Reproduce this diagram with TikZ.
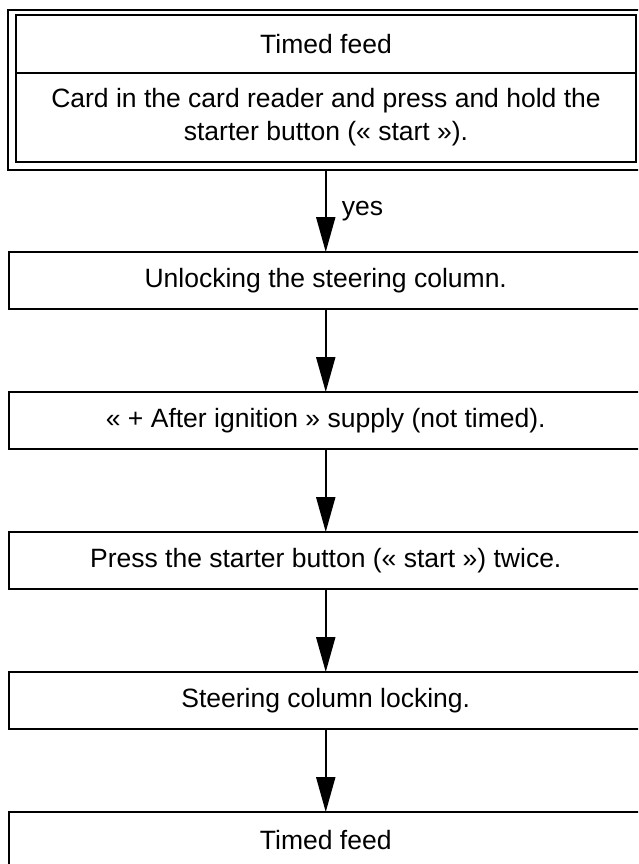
\documentclass[tikz,border=0pt]{standalone}
\usepackage{fontspec}
\setmainfont{Liberation Sans}
\usetikzlibrary{positioning, fit, arrows.meta}

\begin{document}
\begin{tikzpicture}[
    node distance=83pt,
    every node/.style={font=\fontsize{26.5}{33}\selectfont},
    feedpart/.style={rectangle, draw=black, line width=2pt, minimum width=620pt, outer sep=0pt, inner sep=0pt, align=center},
    outerframe/.style={rectangle, draw=black, line width=2pt, inner sep=0pt, outer sep=0pt},
    stepbox/.style={rectangle, draw=black, line width=2pt, minimum width=634pt, minimum height=57pt, outer sep=0pt, inner sep=0pt},
    flowarrow/.style={-{Triangle[length=35pt, width=19pt]}, line width=2.2pt}
]

% Page
\useasboundingbox (0,0) rectangle (638pt,-864pt);
\clip (0,0) rectangle (638pt,-864pt);

% Nodes
\node[feedpart, minimum height=58pt] (feedTitle) at (326pt,-44pt) {Timed feed};
\node[feedpart, minimum height=89pt, below=0pt of feedTitle] (feedBody) {Card in the card reader and press and hold the\\starter button (« start »).};
\node[outerframe, fit={([shift={(-8.5pt,5pt)}]feedTitle.north west) ([shift={(8pt,-8pt)}]feedBody.south east)}] (feed) {};
\node[stepbox, below=82pt of feed] (unlock) {Unlocking the steering column.};
\node[stepbox, below=of unlock] (supply) {« + After ignition » supply (not timed).};
\node[stepbox, below=of supply] (press) {Press the starter button (« start ») twice.};
\node[stepbox, below=of press] (lock) {Steering column locking.};
\node[stepbox, below=of lock] (feedEnd) {Timed feed};

% Edges
\draw[flowarrow] (feed) -- node[midway, right=15pt, inner sep=0pt] {yes} (unlock);
\draw[flowarrow] (unlock) -- (supply);
\draw[flowarrow] (supply) -- (press);
\draw[flowarrow] (press) -- (lock);
\draw[flowarrow] (lock) -- (feedEnd);

\end{tikzpicture}
\end{document}
